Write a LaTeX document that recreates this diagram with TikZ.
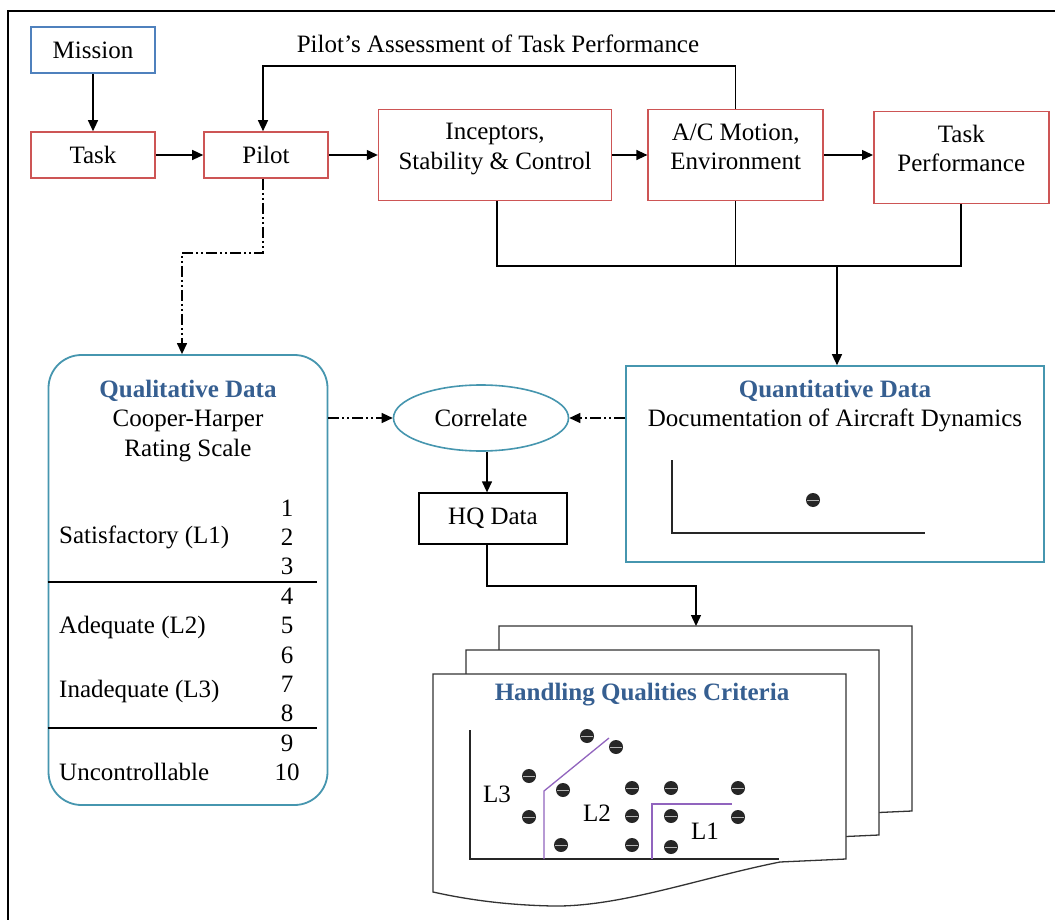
\documentclass[tikz,border=0pt]{standalone}
\usepackage{fontspec}
\setmainfont{Liberation Serif}
\usepackage{xcolor}
\usepackage{tikz}
\usetikzlibrary{arrows.meta,positioning,shapes.geometric}

\definecolor{boxred}{RGB}{205,85,85}
\definecolor{boxblue}{RGB}{79,129,189}
\definecolor{boxteal}{RGB}{70,150,175}
\definecolor{headblue}{RGB}{54,95,145}
\definecolor{lvlpurple}{RGB}{145,100,190}

\begin{document}
\begin{tikzpicture}[x=1pt, y=-1pt,
        font=\fontsize{25}{29.5}\selectfont,
        inner sep=0pt,
        redbox/.style={draw=boxred, line width=1.6pt, minimum width=124pt, minimum height=46pt},
        bluebox/.style={draw=boxblue, line width=1.6pt, minimum width=124pt, minimum height=46pt},
        tealbox/.style={draw=boxteal, line width=1.6pt},
        line/.style={line width=1.3pt},
        dashdot/.style={line width=1.3pt, dash pattern=on 11pt off 3pt on 2pt off 3pt on 2pt off 3pt},
        page/.style={draw=black!80, line width=1.3pt, fill=white},
        lvl/.style={draw=lvlpurple, line width=1.3pt},
        >={Triangle[length=11pt,width=10pt]}]

        \path[use as bounding box, fill=white] (0,0) rectangle (1055,920);
        \draw[line width=2.5pt] (8,920) -- (8,11) -- (1055,11);

        % Nodes
        \node[bluebox] (mission) at (93,50) {Mission};
        \node[redbox] (task) at (93,155) {Task};
        \node[redbox] (pilot) at (266,155) {Pilot};
        \node[redbox, right=49pt of pilot, minimum width=233pt, minimum height=91pt] (incept) {};
        \node[align=center] (incepttxt) at ([yshift=6pt]incept.center) {Inceptors,\\Stability \& Control};
        \node[redbox, right=35pt of incept, minimum width=175pt, minimum height=91pt] (acm) {};
        \node[align=center] (acmtxt) at ([yshift=8pt]acm.center) {A/C Motion,\\Environment};
        \node[redbox, right=49pt of acm, yshift=-2.5pt, minimum width=175pt, minimum height=92pt] (perf) {};
        \node[align=center] (perftxt) at ([yshift=9pt]perf.center) {Task\\Performance};
        \node (assess) at (498,44) {Pilot's Assessment of Task Performance};

        \coordinate (fb) at (263,66);
        \coordinate (busL) at (497,266);
        \coordinate (busM) at (837,266);
        \coordinate (busR) at (961,266);
        \coordinate (qturn) at (182,253);

        % qualitative side
        \node[tealbox, line width=1.8pt, rounded corners=33pt, minimum width=279pt, minimum height=450pt] (qual) at (188,580) {};
        \node[align=center] (qualtxt) at (188,421) {{\bfseries\color{headblue}Qualitative Data}\\Cooper-Harper\\Rating Scale};
        \foreach \n in {1,...,10}
            \node (cr\n) at (287,{508+(\n-1)*29.4}) {\n};
        \node[anchor=west] (lvlone) at (59,537) {Satisfactory (L1)};
        \node[anchor=west] (lvltwo) at (59,627) {Adequate (L2)};
        \node[anchor=west] (lvlthree) at (59,691) {Inadequate (L3)};
        \node[anchor=west] (lvlfour) at (59,772) {Uncontrollable};
        \draw[line] (qual.west |- 0,582) -- (317,582);
        \draw[line] (qual.west |- 0,728) -- (317,728);

        % quantitative side
        \node[tealbox, minimum width=418pt, minimum height=196pt] (quant) at (835,464) {};
        \node[align=center] (quanttxt) at (835,406) {{\bfseries\color{headblue}Quantitative Data}\\Documentation of Aircraft Dynamics};
        \draw[line, black!85] (672,460) -- (672,533) -- (925,533);
        \fill[black!85] (813,500) circle (7pt);
        \draw[gray!60, line width=0.8pt] (807,500) -- (819,500);

        \node[ellipse, tealbox, minimum width=175pt, minimum height=66pt] (corr) at (481,418) {Correlate};
        \node[draw, line width=1.3pt, minimum width=148pt, minimum height=51pt] (hq) at (493,518.5) {HQ Data};
        \coordinate (hqx) at (487,0);
        \coordinate (hqturn) at (696,586);

        % criteria pages
        \foreach \k in {2,1,0}
            \draw[page, shift={(33*\k,-24*\k)}] (433,674) -- (846,674) -- (846,859) -- (780,862)
                .. controls (700,878) and (620,907) .. (553,906)
                .. controls (500,905) and (460,898) .. (433,892) -- cycle;
        \coordinate (pagetop) at (696,626);
        \node (crit) at (642,695) {\bfseries\color{headblue}Handling Qualities Criteria};
        \draw[line, black!85] (470,730) -- (470,859) -- (779,859);
        \draw[lvl] (544,859) -- (544,791) -- (609,738);
        \draw[lvl] (652,859) -- (652,804) -- (732,804);
        \foreach \x/\y in {587/736, 616/747, 529/776, 563/790, 632/788, 671/788, 738/788,
                           529/817, 632/816, 671/816, 738/817, 561/845, 632/845, 671/847} {
            \fill[black!85] (\x,\y) circle (7pt);
            \draw[gray!60, line width=0.8pt] (\x-6,\y) -- (\x+6,\y);
        }
        \node (lthree) at (497,794) {L3};
        \node (ltwo) at (597,813) {L2};
        \node (lone) at (705,831) {L1};

        % Edges
        \draw[line, ->] (mission) -- (task);
        \draw[line, ->] (task) -- (pilot);
        \draw[line, ->] (pilot.east) -- (pilot.east -| incept.west);
        \draw[line, ->] (incept.east |- acm.west) -- (acm.west);
        \draw[line, ->] (acm.east) -- (acm.east -| perf.west);
        \draw[line, ->] (acm.north) |- (fb) -- (fb |- pilot.north);
        \draw[line] (incept.south -| busL) -- (busL) -- (busR) -- (busR |- perf.south);
        \draw[line] (acm.south) -- (acm.south |- busL);
        \draw[line, ->] (busM) -- (busM |- quant.north);
        \draw[dashdot, ->] (pilot.south -| fb) |- (qturn) -- (qturn |- qual.north);
        \draw[dashdot, ->] (qual.east |- corr.west) -- (corr.west);
        \draw[dashdot, ->] (quant.west |- corr.east) -- (corr.east);
        \draw[line, ->] (corr.south -| hqx) -- (hq.north -| hqx);
        \draw[line, ->] (hq.south -| hqx) |- (hqturn) -- (pagetop);

    \end{tikzpicture}
\end{document}
